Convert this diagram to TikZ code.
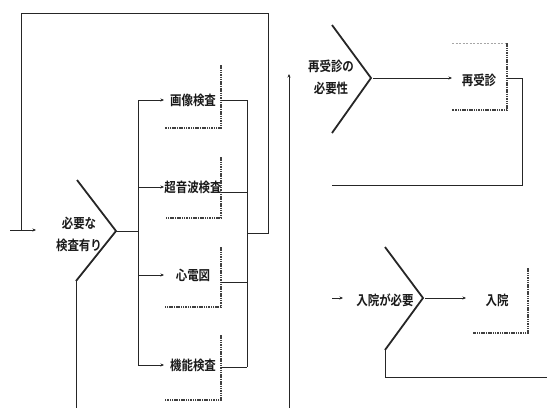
\documentclass[tikz,border=0pt]{standalone}
\usepackage{fontspec}
\newfontfamily\jp{Noto Sans CJK JP}[BoldFont={Noto Sans CJK JP Bold}]
\usetikzlibrary{arrows.meta}
\newcommand\cjn[1]{\scalebox{0.85}[1]{#1}}
\tikzset{
  conn/.style={line width=0.9pt, draw=black!85},
  arr/.style={conn, -{Stealth[length=3.5pt,width=3pt]}},
  chev/.style={line width=1.8pt, draw=black!85, line join=miter},
  shadow/.style={line width=1.1pt, draw=black!75, dash pattern=on 1.5pt off 0.8pt},
  lite/.style={line width=0.6pt, draw=black!35, dash pattern=on 2pt off 1.5pt},
  lbl/.style={font=\jp\bfseries\fontsize{13.5}{22}\selectfont, align=center, inner sep=0pt, text=black!90},
}
\begin{document}
\begin{tikzpicture}[x=1pt,y=-1pt]
\useasboundingbox (0,0) rectangle (547,408);
% ---------- left part ----------
\coordinate (tl) at (21,13);
\coordinate (tr) at (268,13);
\coordinate (in0) at (10,230);
\coordinate (in1) at (36,230);
\coordinate (lj) at (21,230);
\coordinate (c1t) at (77,180);
\coordinate (c1p) at (116,231);
\coordinate (c1b) at (76,281);
\coordinate (c1d) at (76,408);
\coordinate (br) at (138,231);
\coordinate (brT) at (138,100);
\coordinate (brB) at (138,365);
\node[lbl] (c1) at (79,234) {\cjn{必要な}\\\cjn{検査有り}};
\draw[chev] (c1t) -- (c1p) -- (c1b);
\draw[conn] (c1b) -- (c1d);
\draw[arr] (in0) -- (in1);
\draw[conn] (lj) -- (tl) -- (tr);
\draw[conn] (c1p) -- (br);
\draw[conn] (brT) -- (brB);
% boxes
\foreach \n/\t/\ty/\by/\cy/\oy in {b1/画像検査/65/128/100/100, b2/超音波検査/157/218/187/192, b3/心電図/247/307/275/282, b4/機能検査/335/400/365/367}{
  \node[lbl] (\n) at (193,\cy) {\cjn{\t}};
  \coordinate (\n i) at (138,\cy);
  \coordinate (\n a) at (164,\cy);
  \draw[arr] (\n i) -- (\n a);
  \coordinate (\n rt) at (221,\ty);
  \coordinate (\n rb) at (221,\by);
  \coordinate (\n lb) at (165,\by);
  \draw[shadow] (\n rt) -- (\n rb) -- (\n lb);
  \coordinate (\n o) at (221,\oy);
  \coordinate (\n c) at (247,\oy);
  \draw[conn] (\n o) -- (\n c);
}
\coordinate (colT) at (247,100);
\coordinate (colB) at (247,367);
\coordinate (colJ) at (247,233);
\coordinate (rj) at (268,233);
\draw[conn] (colT) -- (colB);
\draw[conn] (colJ) -- (rj) -- (tr);
% ---------- middle vertical ----------
\coordinate (mvB) at (289,408);
\coordinate (mvT) at (289,74);
\draw[arr] (mvB) -- (mvT);
% ---------- re-visit ----------
\coordinate (c2t) at (332,25);
\coordinate (c2p) at (371,78);
\coordinate (c2b) at (332,133);
\node[lbl] (c2) at (331,77) {\cjn{再受診の}\\\cjn{必要性}};
\draw[chev] (c2t) -- (c2p) -- (c2b);
\coordinate (c2o) at (373,78);
\node[lbl] (r1) at (479,80) {\cjn{再受診}};
\coordinate (r1a) at (452,78);
\draw[arr] (c2o) -- (r1a);
\draw[lite] (452,43) -- (507,43);
\draw[shadow] (507,43) -- (507,110) -- (452,110);
\coordinate (r1o) at (507,78);
\coordinate (r1c) at (522,78);
\coordinate (r1d) at (522,185);
\coordinate (r1e) at (332,185);
\draw[conn] (r1o) -- (r1c) -- (r1d) -- (r1e);
% ---------- admission ----------
\coordinate (c3t) at (385,247);
\coordinate (c3p) at (423,298);
\coordinate (c3b) at (385,350);
\node[lbl] (c3) at (385,300) {\cjn{入院が必要}};
\draw[chev] (c3t) -- (c3p) -- (c3b);
\coordinate (c3i0) at (332,298);
\coordinate (c3i1) at (343,298);
\draw[arr] (c3i0) -- (c3i1);
\coordinate (c3o) at (425,298);
\node[lbl] (h1) at (497,300) {\cjn{入院}};
\coordinate (h1a) at (466,298);
\draw[arr] (c3o) -- (h1a);
\draw[shadow] (528,268) -- (528,333) -- (473,333);
\coordinate (c3d) at (385,377);
\coordinate (c3e) at (547,377);
\draw[conn] (c3b) -- (c3d) -- (c3e);
\end{tikzpicture}
\end{document}
